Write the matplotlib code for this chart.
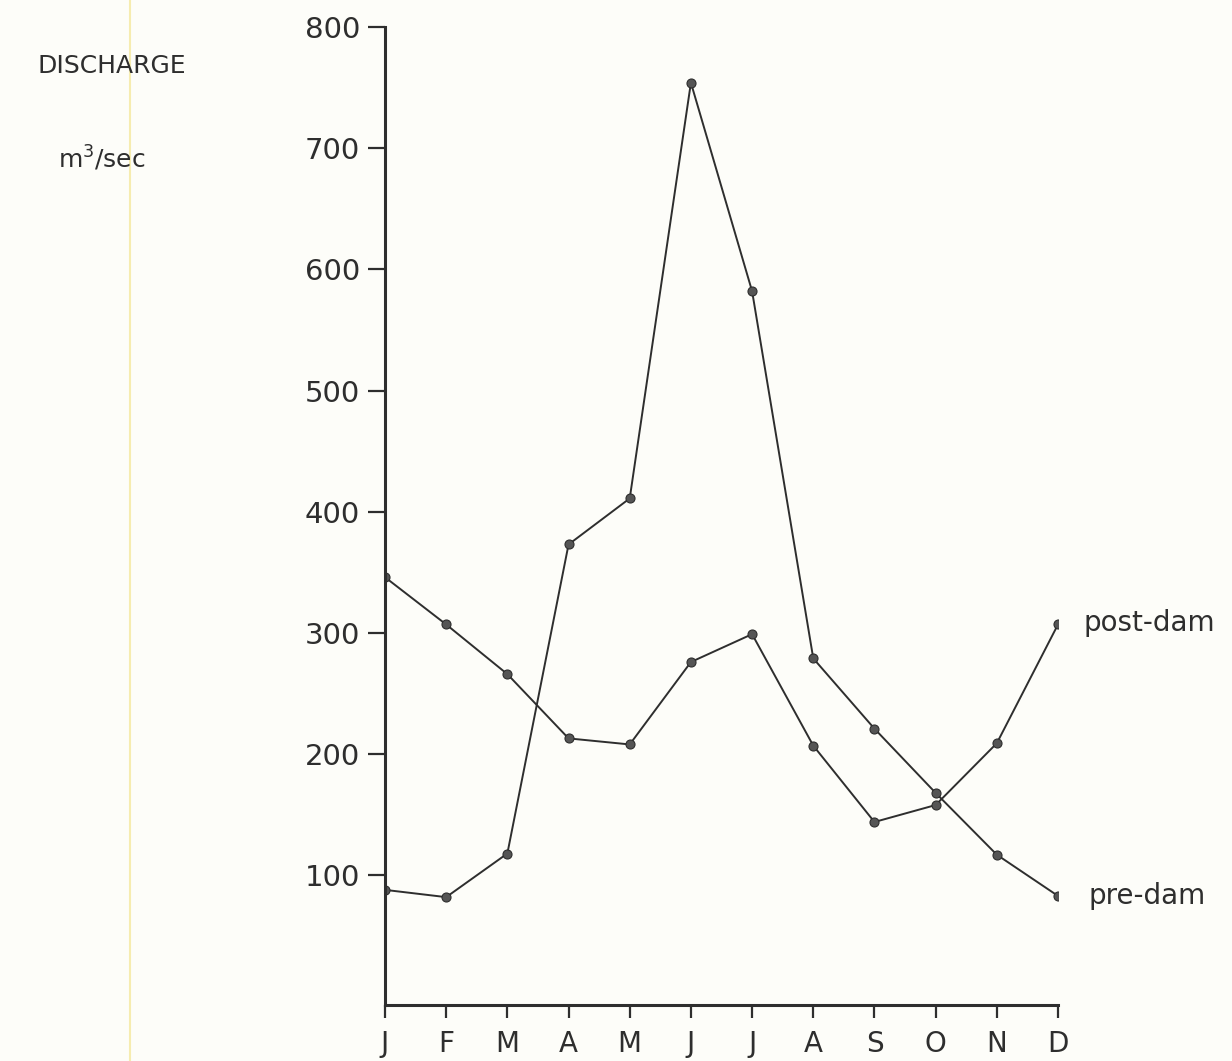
import matplotlib.pyplot as plt
from matplotlib.lines import Line2D

months = ['J', 'F', 'M', 'A', 'M', 'J', 'J', 'A', 'S', 'O', 'N', 'D']
pre_dam = [88, 82, 118, 373, 411, 754, 582, 279, 221, 168, 117, 83]
post_dam = [346, 307, 266, 213, 208, 276, 299, 207, 144, 158, 209, 307]
y_ticks = [100, 200, 300, 400, 500, 600, 700, 800]

ink = '#2e2e2e'
W, H = 1232, 1061

fig = plt.figure(figsize=(W / 100, H / 100), dpi=100)
fig.patch.set_facecolor('#fdfdf9')

# faint yellow margin line of the paper
fig.add_artist(Line2D([130 / W, 130 / W], [0, 1], color='#f6ecb0', lw=1.5))

ax = fig.add_axes([385 / W, 56 / H, (1058 - 385) / W, (1005 - 27) / H])
ax.set_facecolor('none')

x = list(range(len(months)))
for series in (pre_dam, post_dam):
    ax.plot(x, series, '-', color=ink, lw=1.4, marker='o', ms=6.5,
            mfc='#555555', mec=ink, mew=0.8)

ax.annotate('post-dam', (x[-1], post_dam[-1]), xytext=(18, 1),
            textcoords='offset points', va='center', ha='left',
            fontsize=20, color=ink)
ax.annotate('pre-dam', (x[-1], pre_dam[-1]), xytext=(22, 0),
            textcoords='offset points', va='center', ha='left',
            fontsize=20, color=ink)

ax.set_xlim(0, 11)
ax.set_ylim(-7, 800)
ax.set_xticks(x)
ax.set_xticklabels(months)
ax.set_yticks(y_ticks)

for side in ('top', 'right'):
    ax.spines[side].set_visible(False)
for side in ('left', 'bottom'):
    ax.spines[side].set_linewidth(2.2)
    ax.spines[side].set_color(ink)

ax.tick_params(axis='y', direction='out', length=12, width=1.6, pad=6,
               labelsize=21, colors=ink)
ax.tick_params(axis='x', direction='out', length=9, width=1.6, pad=9,
               labelsize=20, colors=ink)

fig.text(37 / W, 1 - 66 / H, 'DISCHARGE', fontsize=18, color=ink,
         ha='left', va='center')
fig.text(58 / W, 1 - 158 / H, 'm$^3$/sec', fontsize=18, color=ink,
         ha='left', va='center')

fig.savefig('out.png', dpi=100, facecolor=fig.get_facecolor())
